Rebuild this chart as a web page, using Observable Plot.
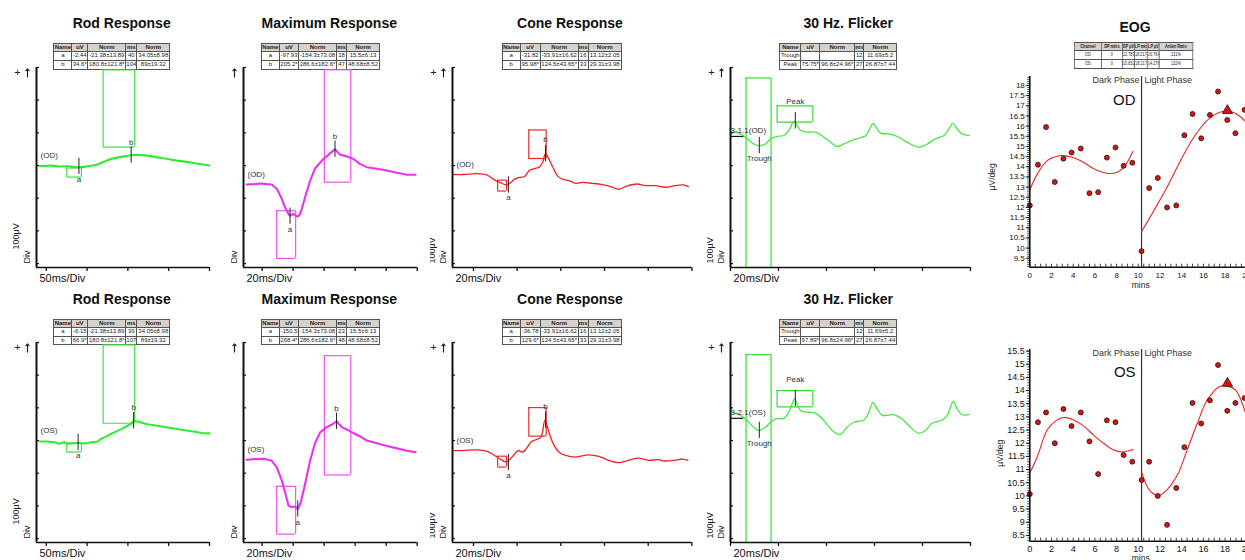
<!DOCTYPE html>
<html>
<head>
<meta charset="utf-8">
<script src="https://cdn.jsdelivr.net/npm/d3@7"></script>
<script src="https://cdn.jsdelivr.net/npm/@observablehq/plot@0.6"></script>
<style>
  html, body { margin: 0; padding: 0; background: #fff; }
  #page { position: relative; width: 1245px; height: 560px; overflow: hidden; background: #fff;
          font-family: "Liberation Sans", Arial, Helvetica, sans-serif; color: #111; }
  .panel { position: absolute; top: 0; height: 560px; overflow: hidden; }
  .panel svg { position: absolute; z-index: 2; }
  .title { position: absolute; font-weight: bold; font-size: 14px; line-height: 16px; white-space: nowrap;
           transform: translateX(-50%); color: #111; }
  table.tb { position: absolute; z-index: 1; border-collapse: collapse; table-layout: fixed;
             border: 1.4px solid #333; font-size: 6px; }
  table.tb td, table.tb th { border: 1px solid #555; padding: 0; text-align: center; white-space: nowrap; overflow: hidden;
             height: 7.6px; line-height: 7.6px; color: #222; font-weight: normal; background: #fff; }
  table.tb th { background: #d6d2cb; font-weight: bold; }
  table.tb.eog { font-size: 4.8px; transform: scaleX(0.8); transform-origin: 0 0; }
  table.tb.eog td, table.tb.eog th { height: 7.8px; line-height: 7.8px; }
</style>
</head>
<body>
<div id="page"></div>
<script>
// ===================== DATA =====================
const rodOD_ms = [-8, 0, 5, 10, 15, 20, 26, 33, 40, 46, 51, 57, 63, 67, 73, 79, 88, 95, 100, 104, 110, 116, 122, 129, 139, 149, 160, 170, 180, 190, 200];
const rodOD_uV = [-2, -1, 0, -1, -3, -2, -2, -4, -5, -4, -2, 0, 3, 8, 14, 20, 25, 28, 30, 32, 33, 32, 31, 28, 24, 20, 15, 12, 8, 4, 0];
const rodOS_ms = [-8, 0, 5, 10, 16, 22, 26, 33, 39, 45, 50, 55, 60, 63, 67, 73, 79, 86, 92, 98, 104, 107, 112, 118, 124, 132, 141, 149, 157, 166, 174, 182, 190, 200];
const rodOS_uV = [-3, -3, -4, -5, -10, -5, -10, -9, -7, -9, -8, -5, -4, -3, 5, 12, 20, 28, 35, 43, 52, 60, 58, 54, 50, 47, 43, 40, 37, 33, 30, 27, 23, 22];

const maxOD_ms = [-10, -5, -1, 3, 6, 9.5, 12.7, 14.8, 17, 18, 20, 22.4, 24, 25.6, 27.7, 31, 34, 38.5, 43, 47, 50, 54.6, 59, 63, 67.5, 74, 80.5, 87, 93.4, 99];
const maxOD_uV = [-1, 0, 2, 0, -1, -14, -45, -71, -91, -97, -91, -99, -96, -76, -40, 11, 47, 72, 91, 107, 91, 85, 77, 62, 52, 47, 42, 35, 29, 29];
const maxOS_ms = [-10, -5, 1, 6, 9.5, 12.7, 14.8, 17, 19, 21.3, 23, 25, 27.7, 31, 34, 37.4, 41.7, 45, 48, 51.4, 55.7, 60, 64.3, 67.5, 74, 80.5, 87, 93.4, 99];
const maxOS_uV = [0, 2, 3, -2, -23, -63, -99, -140, -145, -143, -151, -130, -74, -2, 49, 84, 100, 108, 118, 100, 90, 79, 69, 59, 51, 42, 35, 28, 23];

const coneOD_ms = [-9, -4.6, 1.5, 6, 9, 12, 15.1, 16.6, 18.9, 21.1, 23.4, 25.7, 28, 30.2, 31.7, 33, 34.5, 36.3, 38.5, 40.8, 43.9, 46.9, 49.9, 54.5, 59, 62.8, 66.6, 70.4, 74.9, 78.7, 83.3, 87.8, 92.4, 96.1, 98.4];
const coneOD_uV = [0, 0, 3, -1, -14, -24, -32, -27, -14, -9, -6, 13, 18, 23, 38, 64, 48, 23, -4, -14, -19, -27, -24, -27, -31, -37, -45, -35, -29, -34, -34, -39, -34, -32, -37];
const coneOS_ms = [-9, -4.6, 1.5, 6, 9, 12, 14.8, 16.6, 18.9, 20.4, 22.6, 24.1, 26.4, 28.6, 30.9, 32.7, 34.3, 36.5, 39.2, 42.2, 46.8, 52.8, 57.4, 61.9, 66.4, 71, 75.5, 80, 84.6, 87.6, 92.1, 95.9, 98.2];
const coneOS_uV = [0, 0, 2, -2, -12, -25, -35, -28, -10, 0, -5, 5, 26, 33, 41, 92, 62, 21, -5, -15, -20, -13, -18, -30, -37, -30, -23, -30, -28, -32, -30, -26, -30];

const flkOD_ms = [0.7, 4.2, 6.9, 9.7, 12.2, 14.6, 16.7, 19.4, 22.2, 24.3, 25.7, 26.7, 27.8, 29.2, 32, 35.4, 38.9, 41.7, 44.4, 47.2, 50.7, 54.2, 56.5, 58.3, 59.4, 60.7, 62.5, 66, 69.4, 73.6, 78.5, 82, 85.4, 88.9, 91, 92.6, 94.4, 96.5, 99.3];
const flkOD_uV = [13, 8, -7, -23, -28, -23, -7, 0, 3, 18, 39, 47, 33, 18, 13, 13, -2, -18, -31, -23, -12, -4, 3, 28, 40, 28, 10, 8, 0, -18, -33, -23, -7, 3, 23, 40, 23, 8, 3];
const flkOS_ms = [0.7, 4.2, 6.9, 9.7, 11.8, 14.6, 16.7, 18.8, 22.2, 24.3, 25.7, 26.7, 27.8, 29.2, 32, 35.4, 38.9, 42.4, 45.6, 48.6, 51.4, 55.6, 57.4, 59.3, 61.1, 63.2, 68, 71.5, 75, 78.5, 81.2, 84, 88.2, 90.3, 92.8, 94.4, 96.5, 99.3];
const flkOS_uV = [19, 9, -7, -27, -37, -27, -12, -2, 0, 19, 44, 60, 42, 24, 19, 16, -7, -37, -50, -27, -12, -5, 14, 49, 29, 9, 11, -2, -27, -46, -37, -15, -5, 9, 52, 29, 11, 11];
const flkTroughBoxTop = [179, 195];
const flkBaseMark = [0, 5.5];
const flkChannel = ["3-1.1(OD)", "3-2.1(OS)"];

const ergHead = ["Name", "uV", "Norm", "ms", "Norm"];
const rodOD_table  = [["a", "-2.44", "-21.38±13.89", "40", "34.05±8.98"], ["b", "34.6*", "180.8±121.8*", "104", "89±19.32"]];
const rodOS_table  = [["a", "-6.15", "-21.38±13.89", "39", "34.05±8.98"], ["b", "66.9*", "180.8±121.8*", "107", "89±19.32"]];
const maxOD_table  = [["a", "-97.93", "-154.3±73.08", "18", "15.5±6.13"], ["b", "205.2*", "286.6±182.6*", "47", "48.68±8.52"]];
const maxOS_table  = [["a", "-150.5", "-154.3±73.08", "23", "15.5±6.13"], ["b", "268.4*", "286.6±182.6*", "48", "48.68±8.52"]];
const coneOD_table = [["a", "-31.82", "-33.91±16.62", "16", "13.12±2.05"], ["b", "95.98*", "124.5±43.65*", "33", "29.31±3.98"]];
const coneOS_table = [["a", "-36.78", "-33.91±16.62", "16", "13.12±2.05"], ["b", "129.6*", "124.5±43.65*", "33", "29.31±3.98"]];
const flkOD_table  = [["Trough", "", "", "12", "11.69±5.2"], ["Peak", "75.75*", "96.8±24.96*", "27", "26.87±7.44"]];
const flkOS_table  = [["Trough", "", "", "12", "11.69±5.2"], ["Peak", "97.89*", "96.8±24.96*", "27", "26.87±7.44"]];
const ergYTicks = [-300, -200, -100, 0, 100, 200, 300];

const eogHead = ["Channel", "DP mins", "DP µV", "LP mins", "LP µV", "Arden Ratio"];
const eogRows = [["OD", "0", "12.789", "18.217", "16.764", "131%"], ["OS", "0", "10.832", "18.217", "14.278", "132%"]];
const eogSplitMin = 10.3;
const eogXTicks = [0, 2, 4, 6, 8, 10, 12, 14, 16, 18, 20];
const eogOD_yTicks = [9.5, 10, 10.5, 11, 11.5, 12, 12.5, 13, 13.5, 14, 14.5, 15, 15.5, 16, 16.5, 17, 17.5, 18];
const eogOS_yTicks = [8.5, 9, 9.5, 10, 10.5, 11, 11.5, 12, 12.5, 13, 13.5, 14, 14.5, 15, 15.5];
const eogOD_min = [0, 0.75, 1.5, 2.3, 3.1, 3.85, 4.7, 5.5, 6.3, 7.1, 7.9, 8.65, 9.45, 10.3, 11.0, 11.8, 12.65, 13.5, 14.25, 15.0, 15.8, 16.6, 17.35, 18.2, 18.95, 19.8];
const eogOD_val = [12.1, 14.1, 15.95, 13.25, 14.4, 14.7, 14.9, 12.7, 12.75, 14.45, 14.95, 14.05, 14.2, 9.85, 12.95, 13.45, 12.0, 12.1, 15.55, 16.6, 15.4, 16.55, 17.7, 16.3, 15.65, 16.8];
const eogOD_darkMin = [0, 0.7, 1.6, 2.5, 3.1, 3.8, 4.7, 5.9, 7.1, 8.0, 8.7, 9.5];
const eogOD_darkVal = [12.86, 13.65, 14.3, 14.52, 14.55, 14.48, 14.3, 13.9, 13.68, 13.72, 14.0, 14.75];
const eogOD_lightMin = [10.3, 11.43, 12.66, 13.89, 15.12, 16.35, 17.58, 18.5, 19.26, 19.95];
const eogOD_lightVal = [10.8, 11.84, 13.0, 14.3, 15.45, 16.28, 16.69, 16.72, 16.52, 16.19];
const eogOS_min = [0, 0.75, 1.5, 2.3, 3.1, 3.85, 4.7, 5.5, 6.3, 7.1, 7.9, 8.65, 9.45, 10.3, 11.0, 11.8, 12.65, 13.5, 14.25, 15.0, 15.8, 16.6, 17.35, 18.2, 18.95, 19.8];
const eogOS_val = [10.07, 12.8, 13.17, 12.0, 13.3, 12.65, 13.17, 12.07, 10.83, 12.87, 12.8, 11.55, 11.3, 10.6, 11.3, 10.0, 8.9, 10.3, 11.85, 13.53, 12.75, 13.63, 14.97, 13.23, 13.53, 13.72];
const eogOS_darkMin = [0, 0.68, 1.6, 2.36, 3.13, 4.05, 4.97, 5.9, 6.82, 7.74, 8.5, 9.53];
const eogOS_darkVal = [10.87, 11.48, 12.5, 12.84, 12.98, 12.88, 12.65, 12.3, 11.99, 11.74, 11.67, 11.76];
const eogOS_lightMin = [10.3, 11.06, 11.9, 12.66, 13.6, 14.5, 15.43, 16.35, 17.43, 18.2, 18.97, 19.9];
const eogOS_lightVal = [10.91, 10.2, 10.02, 10.24, 10.79, 11.74, 12.75, 13.64, 14.14, 14.17, 14.02, 13.13];

// ===================== LAYOUT =====================
const FONT = '"Liberation Sans", Arial, Helvetica, sans-serif';
const rowTop = [67, 342], titleY = [22.7, 298.5], tableY = [42.8, 318.6];
const PH = 200, MT = 7, MB = 25, ML = 45, MR = 8;
const yDom = [-312, 300];
const boxTopPx = 2.3;   // px below the frame top where clipped normal-range windows end
const ergPanels = [
  {title: "Rod Response", left: 0, width: 226, axisX: 36, axisEnd: 209, titleX: 121.7, tableX: 53.3, colW: [18, 16, 38, 11, 33],
   xDomain: [-12, 200], xTicks: [0, 50, 100, 150, 200], xLabel: "50ms/Div", color: "#33ea33", lineW: 2.1, boxColor: "#44dd44",
   curve: "linear", unitDy: -18, offsets: [0, 0], peakDy: -13,
   eyes: [{ms: rodOD_ms, uV: rodOD_uV, table: rodOD_table, label: "(OD)"}, {ms: rodOS_ms, uV: rodOS_uV, table: rodOS_table, label: "(OS)"}]},
  {title: "Maximum Response", left: 231, width: 199, axisX: 243.3, axisEnd: 417, titleX: 329.3, tableX: 261, colW: [18, 19, 38, 10, 33],
   xDomain: [-12, 100], xTicks: [0, 20, 40, 60, 80, 100], xLabel: "20ms/Div", color: "#ee30ee", lineW: 2.1, boxColor: "#f050f0",
   curve: "linear", unitDy: -4, offsets: [-57, -59], peakDy: -13,
   eyes: [{ms: maxOD_ms, uV: maxOD_uV, table: maxOD_table, label: "(OD)"}, {ms: maxOS_ms, uV: maxOS_uV, table: maxOS_table, label: "(OS)"}]},
  {title: "Cone Response", left: 430, width: 270, axisX: 452.3, axisEnd: 691.7, titleX: 570, tableX: 501.7, colW: [18, 20, 38, 10, 33],
   xDomain: [-9.6, 100], xTicks: [0, 20, 40, 60, 80, 100], xLabel: "20ms/Div", color: "#ee2222", lineW: 1.3, boxColor: "#ee2a2a",
   curve: "catmull-rom", unitDy: -4, offsets: [-27.5, -30.6], peakDy: -14,
   eyes: [{ms: coneOD_ms, uV: coneOD_uV, table: coneOD_table, label: "(OD)"}, {ms: coneOS_ms, uV: coneOS_uV, table: coneOS_table, label: "(OS)"}]},
  {title: "30 Hz. Flicker", left: 700, width: 280, axisX: 730, axisEnd: 970, titleX: 848.3, tableX: 779.3, colW: [21, 19, 35, 9, 33],
   xDomain: [0, 100], xTicks: [0, 20, 40, 60, 80, 100], xLabel: "20ms/Div", color: "#44e844", lineW: 1.3, boxColor: "#33dd33",
   curve: "catmull-rom", unitDy: -4, offsets: [89, 68], peakDy: -19, flicker: true,
   eyes: [{ms: flkOD_ms, uV: flkOD_uV, table: flkOD_table, label: flkChannel[0], troughTop: flkTroughBoxTop[0]},
          {ms: flkOS_ms, uV: flkOS_uV, table: flkOS_table, label: flkChannel[1], troughTop: flkTroughBoxTop[1]}]}
];

// ===================== BUILD =====================
const page = document.getElementById("page");
const baseStyle = {background: "transparent", overflow: "visible", maxWidth: "none", fontFamily: FONT};

function addDiv(parent, cls, css, text) {
  const d = document.createElement("div");
  if (cls) d.className = cls;
  Object.assign(d.style, css);
  if (text != null) d.textContent = text;
  parent.appendChild(d);
  return d;
}
function addTable(parent, head, rows, widths, left, top, cls, widen) {
  const k = widen || 1;
  const t = document.createElement("table");
  t.className = "tb" + (cls ? " " + cls : "");
  t.style.left = left + "px"; t.style.top = top + "px";
  t.style.width = widths.reduce((a, b) => a + b, 0) * k + "px";
  const cg = document.createElement("colgroup");
  widths.forEach(w => { const c = document.createElement("col"); c.style.width = (w * k) + "px"; cg.appendChild(c); });
  t.appendChild(cg);
  const tb = document.createElement("tbody");
  t.appendChild(tb);
  const hr = tb.insertRow();
  head.forEach(h => { const th = document.createElement("th"); th.textContent = h; hr.appendChild(th); });
  rows.forEach(r => { const tr = tb.insertRow(); r.forEach(c => { tr.insertCell().textContent = c; }); });
  parent.appendChild(t);
}
function parseNorm(s) {
  if (!s) return null;
  const p = s.split("±");
  return [parseFloat(p[0]), parseFloat(p[1])];
}

function ergPlot(L, E, r) {
  const off = L.offsets[r];
  const yScale = d3.scaleLinear().domain(yDom).range([MT + PH, MT]);
  const topLimit = yScale.invert(MT + boxTopPx);
  const trace = E.ms.map((t, i) => ({t, v: E.uV[i] + off}));
  const [r1, r2] = E.table;
  const n1 = parseNorm(r1[2]), m1 = parseNorm(r1[4]), n2 = parseNorm(r2[2]), m2 = parseNorm(r2[4]);
  const t1 = +r1[3], t2 = +r2[3];
  let v1 = parseFloat(r1[1]);
  if (isNaN(v1)) {
    let best = 0;
    E.ms.forEach((t, i) => { if (Math.abs(t - t1) < Math.abs(E.ms[best] - t1)) best = i; });
    v1 = E.uV[best];
  }
  const c1 = {t: t1, v: off + v1, name: r1[0]};
  const c2 = {t: t2, v: c1.v + parseFloat(r2[1]), name: r2[0]};
  const boxes = [
    {x1: m1[0] - m1[1], x2: m1[0] + m1[1],
     y1: n1 ? off + n1[0] - n1[1] : yDom[0],
     y2: n1 ? off + n1[0] + n1[1] : off + E.troughTop},
    {x1: m2[0] - m2[1], x2: m2[0] + m2[1],
     y1: c1.v + n2[0] - n2[1], y2: Math.min(topLimit, c1.v + n2[0] + n2[1])}
  ];
  const vEdges = boxes.flatMap(b => [{x: b.x1, y1: b.y1, y2: b.y2}, {x: b.x2, y1: b.y1, y2: b.y2}]);
  const hEdges = boxes.flatMap(b => [{y: b.y1, x1: b.x1, x2: b.x2}, {y: b.y2, x1: b.x1, x2: b.x2}]);
  const markHalf = 25;
  const marks = [
    Plot.ruleX(vEdges, {x: "x", y1: "y1", y2: "y2", stroke: L.boxColor, strokeWidth: 1.2}),
    Plot.ruleY(hEdges, {y: "y", x1: "x1", x2: "x2", stroke: L.boxColor, strokeWidth: 1.2}),
    Plot.line(trace, {x: "t", y: "v", stroke: L.color, strokeWidth: L.lineW, curve: L.curve}),
    Plot.ruleX([c1, c2], {x: "t", y1: d => d.v - markHalf, y2: d => d.v + markHalf, stroke: "#222", strokeWidth: 1}),
    Plot.text([c1], {x: "t", y: "v", text: "name", dy: 13, fontSize: 8, fill: "#333"}),
    Plot.text([c2], {x: "t", y: "v", text: "name", dy: L.peakDy, fontSize: 8, fill: "#333"}),
    Plot.ruleX([L.xDomain[0]], {stroke: "#111", strokeWidth: 2}),
    Plot.ruleY([yDom[0]], {stroke: "#111", strokeWidth: 1.6}),
    Plot.axisX({ticks: L.xTicks, tickSize: 4, tickFormat: () => "", strokeWidth: 1.3}),
    Plot.axisY({ticks: ergYTicks, tickSize: 3, dx: 3, tickFormat: () => "", strokeWidth: 1.2}),
    Plot.text(["+"], {frameAnchor: "top-left", textAnchor: "middle", lineAnchor: "middle", dx: -19, dy: 5, fontSize: 11, fill: "#222"}),
    Plot.vector([0], {frameAnchor: "top-left", dx: -9, dy: 9.5, length: 8, rotate: 0, anchor: "start", stroke: "#222", strokeWidth: 1.2}),
    Plot.text(["100µV"], {frameAnchor: "bottom-left", rotate: -90, textAnchor: "start", lineAnchor: "middle", dx: -20, dy: L.unitDy, fontSize: 9, fill: "#222"}),
    Plot.text(["Div"], {frameAnchor: "bottom-left", rotate: -90, textAnchor: "start", lineAnchor: "middle", dx: -9, dy: -4, fontSize: 9, fill: "#222"}),
    Plot.text([L.xLabel], {frameAnchor: "bottom-left", textAnchor: "start", lineAnchor: "middle", dx: 3, dy: 11, fontSize: 11, fill: "#111"})
  ];
  if (L.flicker) {
    marks.push(Plot.ruleY([{v: off, x1: flkBaseMark[0], x2: flkBaseMark[1]}], {y: "v", x1: "x1", x2: "x2", stroke: "#111", strokeWidth: 1.2}));
    marks.push(Plot.text([{v: off, s: E.label}], {y: "v", text: "s", frameAnchor: "left", textAnchor: "start", lineAnchor: "middle", dx: 0, dy: -6, fontSize: 8, fill: "#333"}));
  } else {
    marks.push(Plot.text([{v: off, s: E.label}], {y: "v", text: "s", frameAnchor: "left", textAnchor: "start", lineAnchor: "middle", dx: 4, dy: -10, fontSize: 8, fill: "#333"}));
  }
  return Plot.plot({
    width: ML + (L.axisEnd - L.axisX) + MR, height: MT + PH + MB,
    marginLeft: ML, marginRight: MR, marginTop: MT, marginBottom: MB,
    x: {domain: L.xDomain, label: null},
    y: {domain: yDom, label: null},
    style: baseStyle,
    marks
  });
}

ergPanels.forEach(L => {
  const panel = addDiv(page, "panel", {left: L.left + "px", width: L.width + "px"});
  L.eyes.forEach((E, r) => {
    addDiv(panel, "title", {left: (L.titleX - L.left) + "px", top: (titleY[r] - 8) + "px"}, L.title);
    addTable(panel, ergHead, E.table, L.colW, L.tableX - L.left, tableY[r]);
    const svg = ergPlot(L, E, r);
    svg.style.left = (L.axisX - ML - L.left) + "px";
    svg.style.top = (rowTop[r] - MT) + "px";
    panel.appendChild(svg);
  });
});

// ---------- EOG ----------
const eogPanel = addDiv(page, "panel", {left: "980px", width: "265px"});
addDiv(eogPanel, "title", {left: (1135 - 980) + "px", top: (26.7 - 8) + "px"}, "EOG");
addTable(eogPanel, eogHead, eogRows, [27, 21, 12, 13, 12, 33], 1074 - 980, 41.5, "eog", 1.25);

function eogPlot(c) {
  const pts = c.min.map((x, i) => ({x, y: c.val[i]}));
  const dark = c.darkMin.map((x, i) => ({x, y: c.darkVal[i]}));
  const light = c.lightMin.map((x, i) => ({x, y: c.lightVal[i]}));
  const peak = [{x: +c.row[3], y: +c.row[4]}];
  const minor = d3.range(Math.ceil(c.yDom[0] * 10), Math.floor(c.yDom[1] * 10) + 1).map(i => i / 10);
  const xMinor = d3.range(0, 42).map(i => i / 2);
  return Plot.plot({
    width: 290, height: c.height,
    marginLeft: 49.3, marginRight: 12.85, marginTop: 6, marginBottom: c.mb,
    x: {domain: [0, 21], label: null},
    y: {domain: c.yDom, label: null},
    style: baseStyle,
    marks: [
      Plot.ruleX([eogSplitMin], {stroke: "#333", strokeWidth: 1.2}),
      Plot.line(dark, {x: "x", y: "y", stroke: "#ee2222", strokeWidth: 1.1, curve: "catmull-rom"}),
      Plot.line(light, {x: "x", y: "y", stroke: "#ee2222", strokeWidth: 1.1, curve: "catmull-rom"}),
      Plot.dot(pts, {x: "x", y: "y", r: 2.5, fill: "#dd1010", stroke: "#1a1a1a", strokeWidth: 0.8}),
      Plot.dot(peak, {x: "x", y: "y", symbol: "triangle", r: 3.8, fill: "#dd1010", stroke: "#1a1a1a", strokeWidth: 0.8}),
      Plot.ruleX([0], {stroke: "#111", strokeWidth: 1.6}),
      Plot.ruleY([c.yDom[0]], {stroke: "#111", strokeWidth: 1.6}),
      Plot.axisY({ticks: minor, tickSize: 2, tickFormat: () => "", strokeWidth: 0.8}),
      Plot.axisY({ticks: c.yTicks, tickSize: 3.5, tickPadding: 1.5, fontSize: c.fs, tickFormat: d => String(d), strokeWidth: 1}),
      Plot.axisX({ticks: xMinor, tickSize: 3, dy: -3, tickFormat: () => "", strokeWidth: 0.8}),
      Plot.axisX({ticks: eogXTicks, tickSize: 0, tickPadding: c.xpad, fontSize: c.fs, tickFormat: d => String(d)}),
      Plot.text(["µV/deg"], {frameAnchor: "left", rotate: -90, textAnchor: "middle", lineAnchor: "middle", dx: c.unitDx, dy: c.unitDy, fontSize: 8.5, fill: "#222"}),
      Plot.text(["mins"], {frameAnchor: "bottom", textAnchor: "middle", lineAnchor: "middle", dx: -3, dy: c.minsDy, fontSize: 8.5, fill: "#222"}),
      Plot.text([{x: eogSplitMin, s: "Dark Phase"}], {x: "x", text: "s", frameAnchor: "top", textAnchor: "end", lineAnchor: "middle", dx: -2, dy: 3.5, fontSize: 9, fill: "#333"}),
      Plot.text([{x: eogSplitMin, s: "Light Phase"}], {x: "x", text: "s", frameAnchor: "top", textAnchor: "start", lineAnchor: "middle", dx: 3, dy: 3.5, fontSize: 9, fill: "#333"}),
      Plot.text([{x: eogSplitMin, s: c.row[0]}], {x: "x", text: "s", frameAnchor: "top", textAnchor: "end", lineAnchor: "middle", dx: -6, dy: c.eyeDy, fontSize: 15,
        fontFamily: '"Liberation Sans Narrow", "Liberation Sans", Arial, sans-serif', fill: "#111"})
    ]
  });
}
const eogCfg = [
  {min: eogOD_min, val: eogOD_val, darkMin: eogOD_darkMin, darkVal: eogOD_darkVal, lightMin: eogOD_lightMin, lightVal: eogOD_lightVal,
   row: eogRows[0], yTicks: eogOD_yTicks, yDom: [9.06, 18.44], height: 220, mb: 23.3, top: 70, fs: 8, xpad: 5,
   unitDx: -37.3, unitDy: 5, minsDy: 18.5, eyeDy: 24},
  {min: eogOS_min, val: eogOS_val, darkMin: eogOS_darkMin, darkVal: eogOS_darkVal, lightMin: eogOS_lightMin, lightVal: eogOS_lightVal,
   row: eogRows[1], yTicks: eogOS_yTicks, yDom: [8.28, 15.56], height: 219.7, mb: 22, top: 343.3, fs: 9, xpad: 4.5,
   unitDx: -30, unitDy: 8, minsDy: 17, eyeDy: 23}
];
eogCfg.forEach(c => {
  const svg = eogPlot(c);
  svg.style.left = "0px";
  svg.style.top = c.top + "px";
  eogPanel.appendChild(svg);
});
</script>
</body>
</html>
